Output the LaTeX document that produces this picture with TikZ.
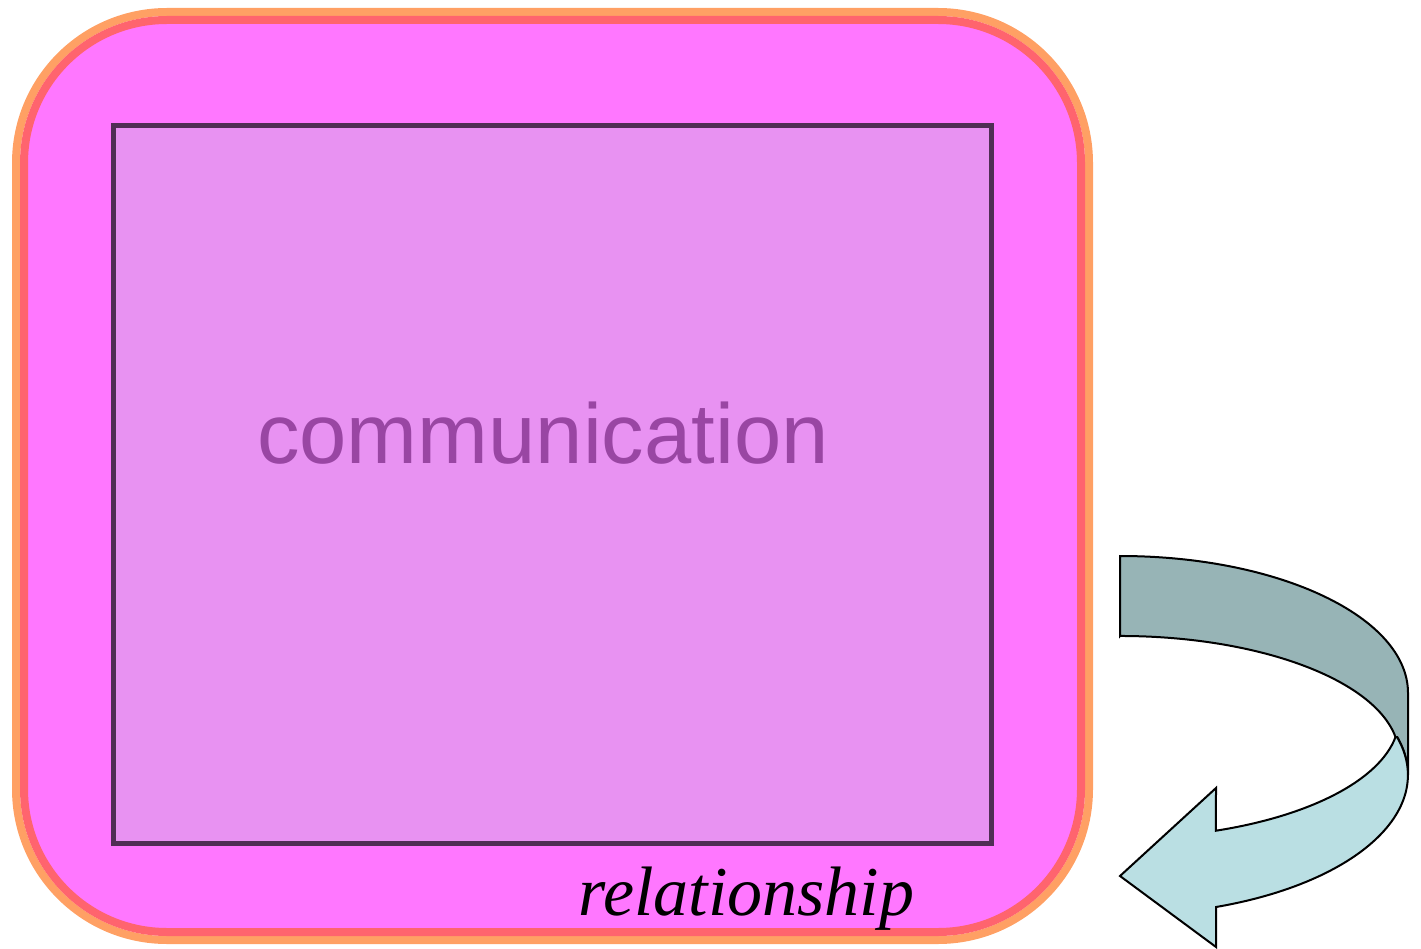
\documentclass[tikz,border=0pt]{standalone}
\usepackage{fontspec}
\setmainfont{Liberation Serif}
\newfontfamily\arialfont{Liberation Sans}
\definecolor{outerorange}{RGB}{255,160,100}
\definecolor{outerred}{RGB}{255,100,110}
\definecolor{pinkfill}{RGB}{255,119,255}
\definecolor{innerfill}{RGB}{232,146,242}
\definecolor{innerline}{RGB}{80,45,85}
\definecolor{commtext}{RGB}{153,70,163}
\definecolor{ribbondark}{RGB}{151,180,182}
\definecolor{ribbonlight}{RGB}{186,223,227}
\tikzset{
  outerband/.style={draw=outerorange, line width=8pt, rounded corners=151pt},
  innerband/.style={draw=outerred, fill=pinkfill, line width=8pt, rounded corners=143pt},
  innerbox/.style={draw=innerline, fill=innerfill, line width=5pt, outer sep=0pt, inner sep=0pt},
  ribbon/.style={draw=black, line width=2pt, line join=miter},
  commlabel/.style={font=\arialfont\fontsize{85}{85}\selectfont, text=commtext, inner sep=0pt, anchor=base},
  rellabel/.style={font=\itshape\fontsize{70}{70}\selectfont, text=black, inner sep=0pt, anchor=base}
}
\begin{document}
\begin{tikzpicture}[x=1pt,y=1pt]
\useasboundingbox (0,0) rectangle (1421,-949);
% outer rounded box
\draw[outerband] (16,-12) rectangle (1089,-940);
\draw[innerband] (24,-20) rectangle (1081,-932);
% inner box
\node[innerbox, minimum width=877.5pt, minimum height=717.5pt, anchor=north west] (inner) at (113.5,-125.5) {};
\node[commlabel] (comm) at (543,-463) {communication};
\node[rellabel] (rel) at (746.5,-915) {relationship};
% curved ribbon arrow
\coordinate (junction) at (1395.5,-737);
\draw[ribbon, fill=ribbondark] (1120,-556) arc[start angle=90, end angle=0, x radius=288, y radius=137]
  -- (1408,-775) arc[start angle=0, end angle=15.75, x radius=288, y radius=140]
  -- (junction) arc[start angle=9.1, end angle=90, x radius=279, y radius=120] -- (1120,-636) -- cycle;
\draw[ribbon, fill=ribbonlight] (junction) arc[start angle=-9.1, end angle=-69.9, x radius=279, y radius=120]
  -- (1216,-788) -- (1120,-876) -- (1216,-947) -- (1216,-907)
  arc[start angle=-70.5, end angle=15.75, x radius=288, y radius=140] -- (junction) -- cycle;
\end{tikzpicture}
\end{document}
